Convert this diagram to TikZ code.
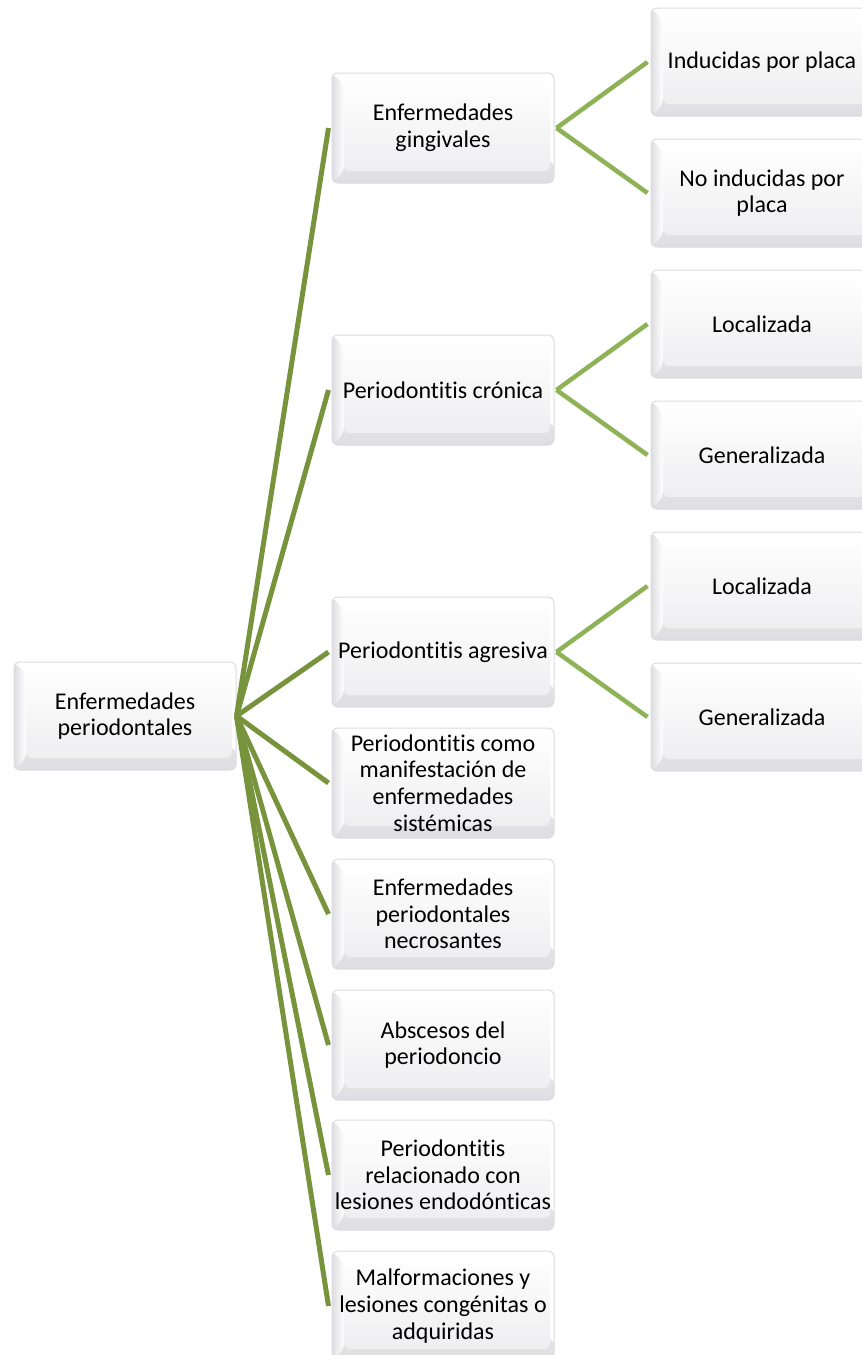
\documentclass[tikz,border=0pt]{standalone}
\usepackage{fontspec}
\setmainfont{Carlito}[Ligatures=NoCommon]
\definecolor{darkgreen}{HTML}{77933C}
\definecolor{lightgreen}{HTML}{8DB356}
\definecolor{boxedge}{HTML}{DCDCE0}
\definecolor{bevel}{HTML}{DEDEE2}
\tikzset{
  bevelbox/.style={draw=boxedge, line width=1pt, fill=white, rounded corners=6pt,
    minimum width=222pt, minimum height=#1, inner sep=0pt, align=center,
    font=\fontsize{24}{26.7}\selectfont,
    path picture={
      \shade[top color=white, bottom color=bevel]
        ([yshift=22pt]path picture bounding box.south west) rectangle (path picture bounding box.south east);
      \shade[left color=bevel, right color=white]
        (path picture bounding box.south west) -- (path picture bounding box.north west)
        -- ([xshift=12pt,yshift=-12pt]path picture bounding box.north west)
        -- ([xshift=12pt,yshift=12pt]path picture bounding box.south west) -- cycle;
      \shade[top color=white, bottom color=bevel!50]
        ([xshift=12pt,yshift=-4pt]path picture bounding box.north west) rectangle ([xshift=-4pt,yshift=12pt]path picture bounding box.south east);
    }},
  rootline/.style={draw=darkgreen, line width=5pt},
  subline/.style={draw=lightgreen, line width=4.5pt}
}
\begin{document}
\begin{tikzpicture}[x=1pt,y=-1pt]
\useasboundingbox (0,0) rectangle (862,1355);
\clip (0,0) rectangle (862,1355);
\node[bevelbox=108pt] (root) at (125,716) {Enfermedades\\periodontales};
\node[bevelbox=110pt] (a) at (443,128) {Enfermedades\\gingivales};
\node[bevelbox=110pt] (b) at (443,390) {Periodontitis crónica};
\node[bevelbox=110pt] (c) at (443,652) {Periodontitis agresiva};
\node[bevelbox=110pt] (d) at (443,783) {Periodontitis como\\manifestación de\\enfermedades\\sistémicas};
\node[bevelbox=110pt] (e) at (443,914) {Enfermedades\\periodontales\\necrosantes};
\node[bevelbox=110pt] (f) at (443,1045) {Abscesos del\\periodoncio};
\node[bevelbox=110pt] (g) at (443,1175) {Periodontitis\\relacionado con\\lesiones endodónticas};
\node[bevelbox=110pt] (h) at (443,1306) {Malformaciones y\\lesiones congénitas o\\adquiridas};
\node[bevelbox=108pt] (a1) at (762,62) {Inducidas por placa};
\node[bevelbox=108pt] (a2) at (762,193) {No inducidas por\\placa};
\node[bevelbox=108pt] (b1) at (762,324) {Localizada};
\node[bevelbox=108pt] (b2) at (762,455) {Generalizada};
\node[bevelbox=108pt] (c1) at (762,586) {Localizada};
\node[bevelbox=108pt] (c2) at (762,717) {Generalizada};
\foreach \n in {a,b,c,d,e,f,g,h}
  \draw[rootline] (root.east) -- ([xshift=-3pt]\n.west);
\foreach \p/\q in {a/a1,a/a2,b/b1,b/b2,c/c1,c/c2}
  \draw[subline] ([xshift=2pt]\p.east) -- ([xshift=-3pt]\q.west);
\end{tikzpicture}
\end{document}
